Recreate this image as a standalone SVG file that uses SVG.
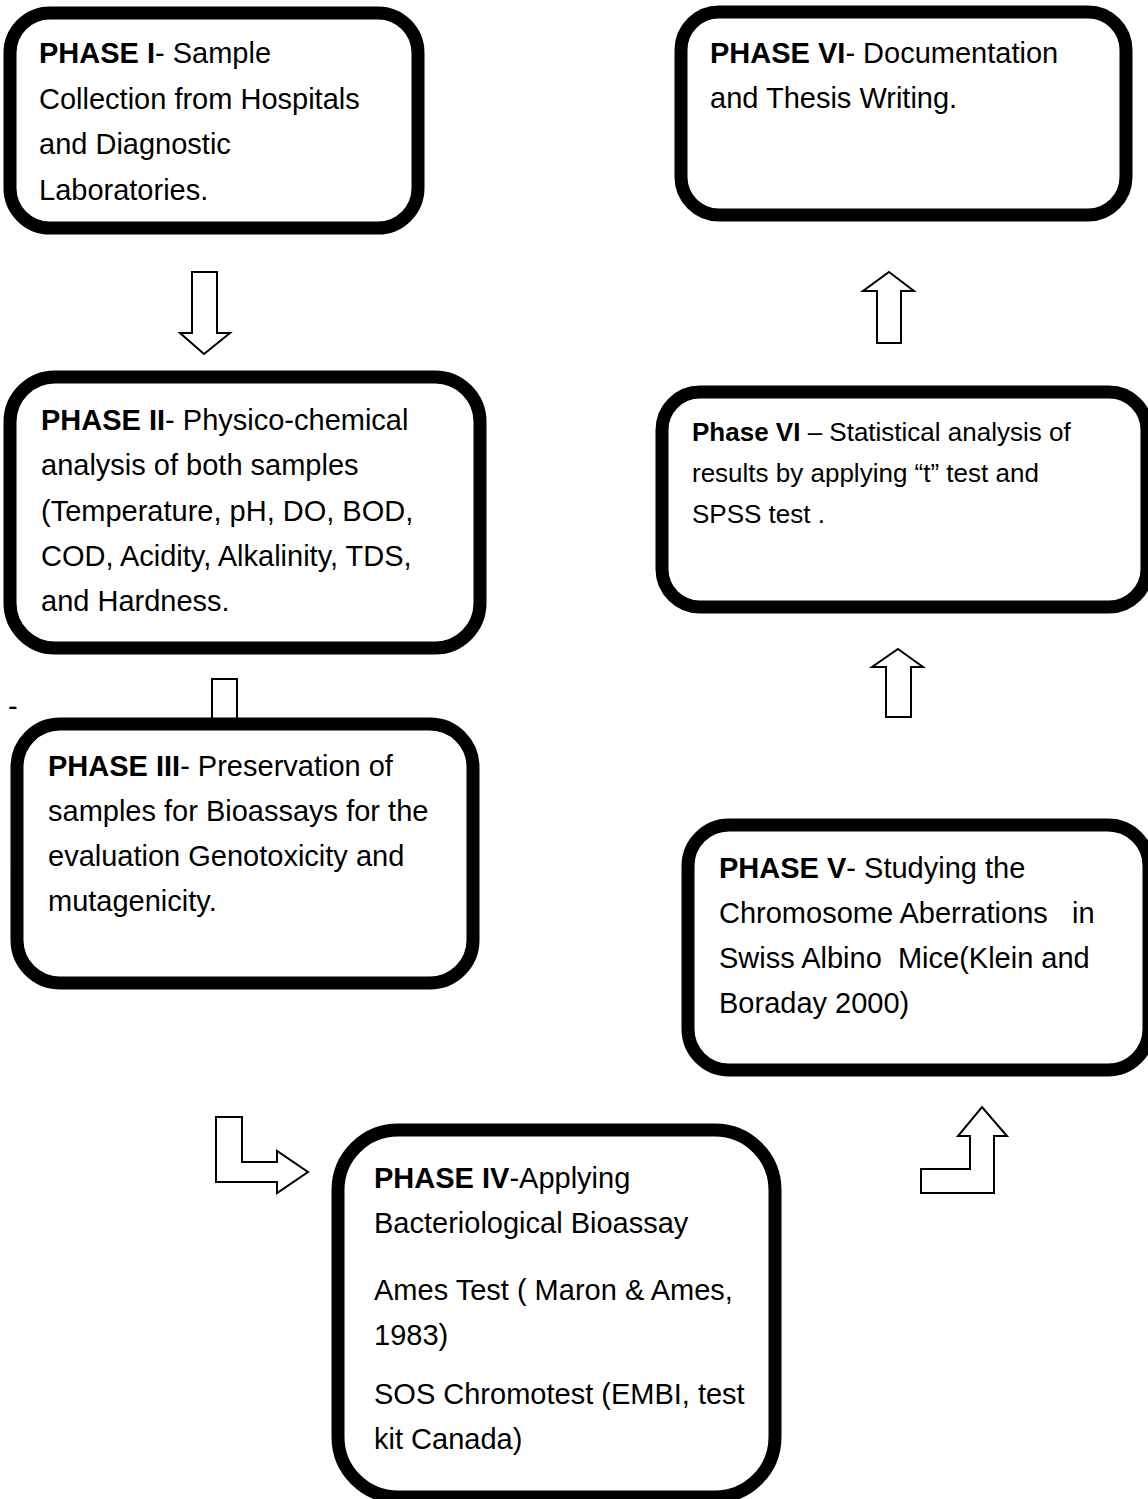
<svg xmlns="http://www.w3.org/2000/svg" width="1148" height="1499" viewBox="0 0 1148 1499">
<style>
.box{fill:#fff;stroke:#000;stroke-width:13}
.arr{fill:#fff;stroke:#000;stroke-width:2;stroke-linejoin:miter}
text{font-family:"Liberation Sans",Arial,sans-serif;font-size:29px;fill:#000;white-space:pre}
.sm{font-size:26px}
.b{font-weight:bold}
</style>
<rect width="1148" height="1499" fill="#fff"/>
<g id="connectors">
<polygon class="arr" points="192,272 217,272 217,333 230,333 204,354 180,333 192,333"/>
<rect class="arr" x="212" y="679" width="25" height="44"/>
<polygon class="arr" points="216,1117 242,1117 242,1162 277,1162 277,1151 308,1172 277,1193 277,1182 216,1182"/>
<polygon class="arr" points="921,1193 921,1169 970,1169 970,1136 958,1136 982,1107 1007,1136 994,1136 994,1193"/>
<polygon class="arr" points="889,272 914,291 901,291 901,343 877,343 877,291 863,291"/>
<polygon class="arr" points="898,649 923,667 911,667 911,717 886,717 886,667 872,667"/>
</g>
<text x="8" y="716">-</text>
<g id="phase1">
<rect class="box" x="10" y="13" width="408" height="215" rx="40"/>
<text x="39" y="63"><tspan class="b">PHASE I</tspan>- Sample</text>
<text x="39" y="108.5">Collection from Hospitals</text>
<text x="39" y="154">and Diagnostic</text>
<text x="39" y="199.5">Laboratories.</text>
</g>
<g id="phase2">
<rect class="box" x="10" y="377" width="470" height="271" rx="45"/>
<text x="41" y="430"><tspan class="b">PHASE II</tspan>- Physico-chemical</text>
<text x="41" y="475">analysis of both samples</text>
<text x="41" y="521">(Temperature, pH, DO, BOD,</text>
<text x="41" y="566">COD, Acidity, Alkalinity, TDS,</text>
<text x="41" y="611">and Hardness.</text>
</g>
<g id="phase3">
<rect class="box" x="17" y="724" width="456" height="259" rx="43"/>
<text x="48" y="776"><tspan class="b">PHASE III</tspan>- Preservation of</text>
<text x="48" y="821">samples for Bioassays for the</text>
<text x="48" y="866">evaluation Genotoxicity and</text>
<text x="48" y="911">mutagenicity.</text>
</g>
<g id="phase4">
<rect class="box" x="338" y="1130" width="437" height="367" rx="60"/>
<text x="374" y="1188"><tspan class="b">PHASE IV</tspan>-Applying</text>
<text x="374" y="1233">Bacteriological Bioassay</text>
<text x="374" y="1300">Ames Test ( Maron &amp; Ames,</text>
<text x="374" y="1345">1983)</text>
<text x="374" y="1404">SOS Chromotest (EMBI, test</text>
<text x="374" y="1449">kit Canada)</text>
</g>
<g id="phase5">
<rect class="box" x="688" y="825" width="461" height="245" rx="41"/>
<text x="719" y="878"><tspan class="b">PHASE V</tspan>- Studying the</text>
<text x="719" y="923">Chromosome Aberrations   in</text>
<text x="719" y="968">Swiss Albino  Mice(Klein and</text>
<text x="719" y="1013">Boraday 2000)</text>
</g>
<g id="phase6-stats">
<rect class="box" x="662" y="392" width="485" height="215" rx="38"/>
<text class="sm" x="692" y="441"><tspan class="b">Phase VI</tspan> – Statistical analysis of</text>
<text class="sm" x="692" y="482">results by applying “t” test and</text>
<text class="sm" x="692" y="523">SPSS test .</text>
</g>
<g id="phase6-doc">
<rect class="box" x="681" y="12" width="445" height="203" rx="38"/>
<text x="710" y="63"><tspan class="b">PHASE VI</tspan>- Documentation</text>
<text x="710" y="108">and Thesis Writing.</text>
</g>
</svg>
